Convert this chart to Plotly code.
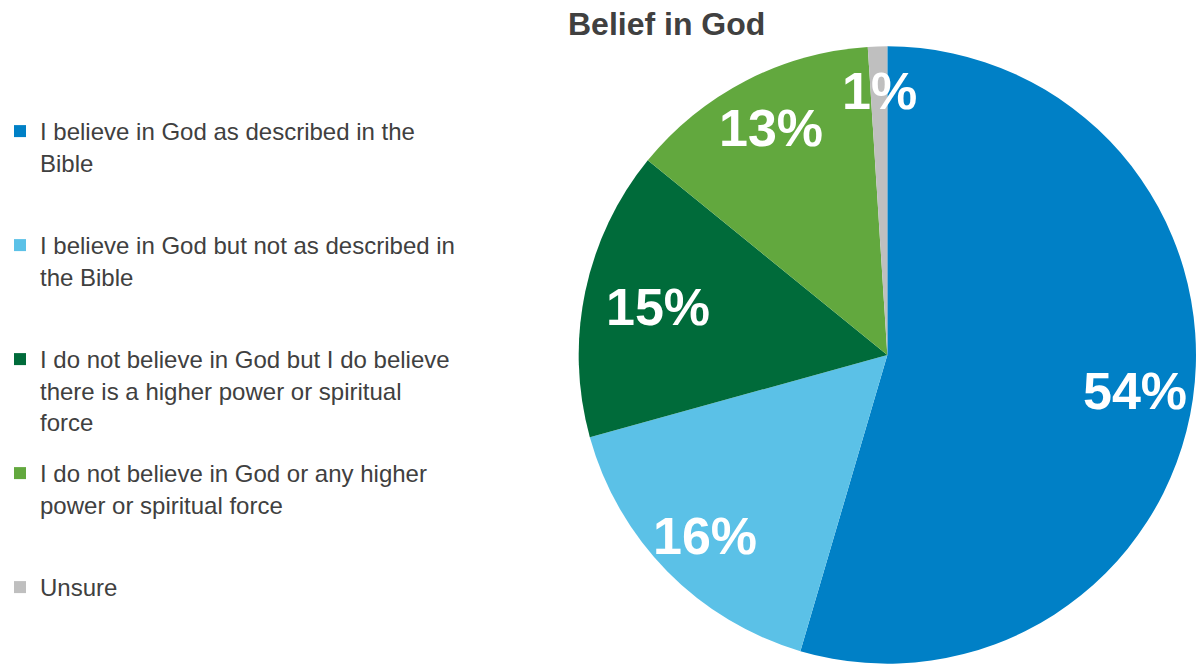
import math
import plotly.graph_objects as go

# Survey responses: belief in God (percent of respondents)
categories = [
    "I believe in God as described in the<br>Bible",
    "I believe in God but not as described in<br>the Bible",
    "I do not believe in God but I do believe<br>there is a higher power or spiritual<br>force",
    "I do not believe in God or any higher<br>power or spiritual force",
    "Unsure",
]
percentages = [54, 16, 15, 13, 1]
slice_colors = ["#0080C6", "#5BC1E7", "#006B3A", "#62A83E", "#BFBFBF"]

W, H = 1196, 669
FONT = "Liberation Sans, Arial, sans-serif"
TEXT_COLOR = "#404040"

# pie placement in pixels
px_left, px_right = 574, 1196
px_top, px_bottom = 44, 666
cx = (px_left + px_right) / 2
cy = (px_top + px_bottom) / 2
R = (px_right - px_left) / 2 * 0.988

fig = go.Figure(
    go.Pie(
        labels=[c.replace("<br>", " ") for c in categories],
        values=percentages,
        marker=dict(colors=slice_colors, line=dict(width=0)),
        sort=False,
        direction="clockwise",
        rotation=0,
        textinfo="none",
        hoverinfo="label+value",
        showlegend=False,
        domain=dict(x=[px_left / W, px_right / W],
                    y=[(H - px_bottom) / H, (H - px_top) / H]),
    )
)

# one legend box per category, stacked on an even rhythm
legend_top_px = [109, 223, 337, 451, 565]
legend_layouts = {}
for i, (label, color) in enumerate(zip(categories, slice_colors)):
    key = "legend" if i == 0 else f"legend{i + 1}"
    fig.add_trace(go.Scatter(
        x=[None], y=[None], mode="markers",
        marker=dict(symbol="square", size=12, color=color),
        name=label, legend=key, hoverinfo="skip",
    ))
    legend_layouts[key] = dict(
        x=-0.008, y=1 - legend_top_px[i] / H,
        xanchor="left", yanchor="top",
        font=dict(family=FONT, size=24, color=TEXT_COLOR),
        valign="top",
        bgcolor="rgba(0,0,0,0)",
        itemclick=False, itemdoubleclick=False,
    )

# percentage labels placed at each slice's mid-angle
label_radius = [0.82, 0.84, 0.77, 0.83, 0.86]
total = sum(percentages)
start = 0.0
annotations = []
for v, rf in zip(percentages, label_radius):
    span = 360.0 * v / total
    mid = math.radians(start + span / 2)
    start += span
    x_px = cx + rf * R * math.sin(mid)
    y_px = cy - rf * R * math.cos(mid)
    annotations.append(dict(
        x=x_px / W, y=1 - y_px / H, xref="paper", yref="paper",
        text=f"<b>{v}%</b>", showarrow=False,
        font=dict(family=FONT, size=52, color="white"),
        xanchor="center", yanchor="middle",
    ))

annotations.append(dict(
    x=662 / W, y=1 - 24 / H, xref="paper", yref="paper",
    text="<b>Belief in God</b>", showarrow=False,
    font=dict(family=FONT, size=32, color=TEXT_COLOR),
    xanchor="center", yanchor="middle",
))

fig.update_layout(
    width=W, height=H,
    margin=dict(l=0, r=0, t=0, b=0),
    paper_bgcolor="white",
    plot_bgcolor="white",
    font=dict(family=FONT, color=TEXT_COLOR),
    showlegend=True,
    xaxis=dict(visible=False),
    yaxis=dict(visible=False),
    annotations=annotations,
    **legend_layouts,
)

fig.write_html("out.html")
